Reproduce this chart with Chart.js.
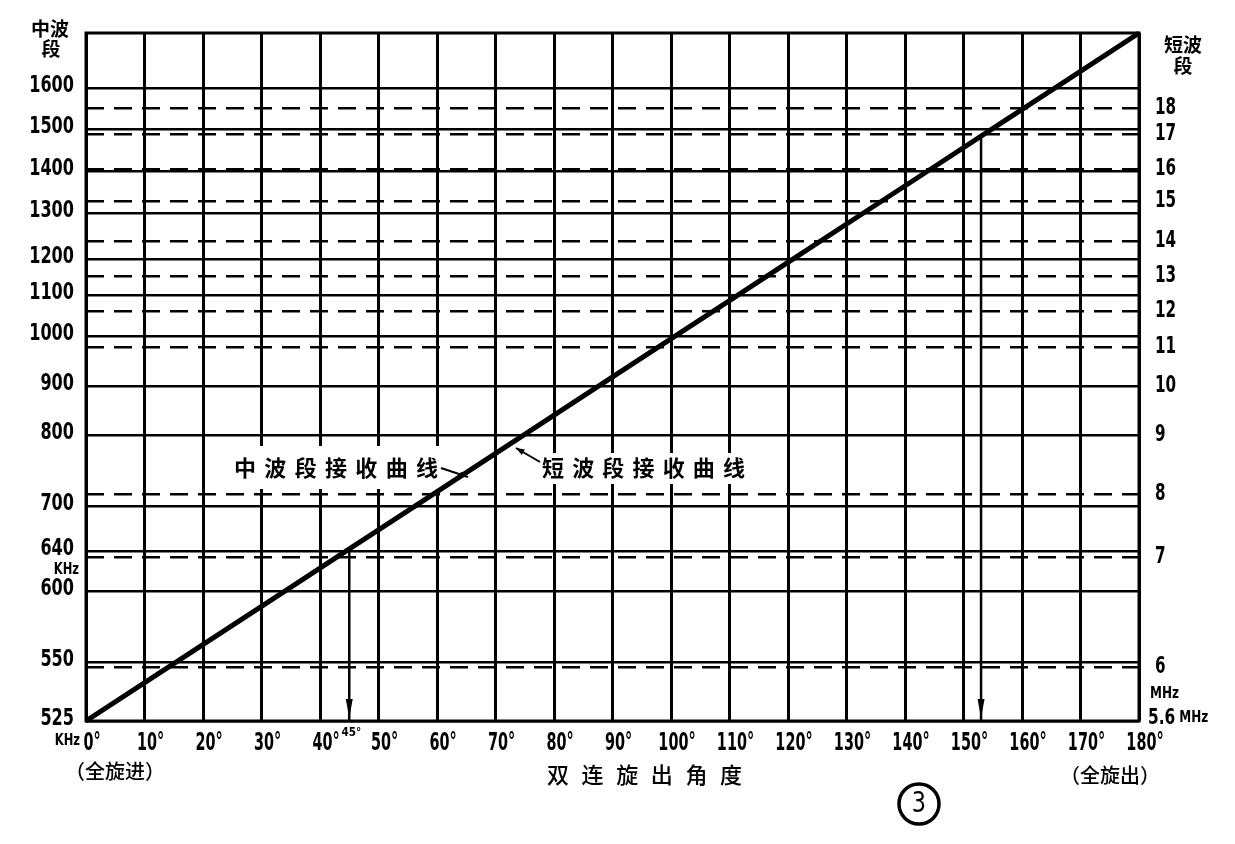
<!DOCTYPE html>
<html><head><meta charset="utf-8">
<title>双连旋出角度</title>
<script src="https://cdn.jsdelivr.net/npm/chart.js@4.4.1/dist/chart.umd.min.js"></script>
<style>html,body{margin:0;background:#fff}canvas{display:block}</style>
</head><body>
<canvas id="dial" width="1235" height="844"></canvas>
<script>
// dial calibration
// x: rotation angle of the twin capacitor (degrees), curves are straight so each band gets its own frequency scale
const angleTicks = [0,10,20,30,40,50,60,70,80,90,100,110,120,130,140,150,160,170,180];

// medium wave: frequency (kHz) and the angle where the curve reaches it
const mwKHz   = [525, 550, 600, 640, 700, 800, 900, 1000, 1100, 1200, 1300, 1400, 1500, 1600];
const mwAngle = [0, 15.4, 34.0, 44.5, 56.3, 74.8, 87.6, 100.7, 111.5, 120.9, 132.9, 143.9, 154.9, 165.6];
const mwTopKHz = 1720;   // full rotation (180°), not labelled

// short wave: frequency (MHz) and angle
const swMHz   = [5.6, 6, 7, 8, 9, 10, 11, 12, 13, 14, 15, 16, 17, 18];
const swAngle = [0, 14.1, 42.9, 59.4, 74.8, 87.6, 97.8, 107.3, 116.4, 125.6, 136.0, 144.4, 153.6, 160.4];
const swTopMHz = 20;
const swDashed = [6, 7, 8, 11, 12, 13, 14, 15, 16, 17, 18];   // MHz values that carry a dashed line

// marked points (angle, band value)
const markAngles = [45, 153];
const markFreqs  = [640, 17];

const NUM = '"DejaVu Sans", sans-serif';
const CJK = '"Noto Sans CJK SC", "Noto Sans CJK TC", sans-serif';

function interp(v, xs, ys){
  if(v<=xs[0]) return ys[0];
  for(let i=1;i<xs.length;i++){ if(v<=xs[i]){ const t=(v-xs[i-1])/(xs[i]-xs[i-1]); return ys[i-1]+t*(ys[i]-ys[i-1]); } }
  return ys[ys.length-1];
}

// frequency -> dial position lookup for each y axis
const DIALS = {
  y:  {f: mwKHz.concat([mwTopKHz]), a: mwAngle.concat([180]), ticks: mwKHz},
  y2: {f: swMHz.concat([swTopMHz]), a: swAngle.concat([180]), ticks: swMHz}
};

const LinearScale = Chart.LinearScale || Chart.registry.getScale('linear');
class DialScale extends LinearScale {
  determineDataLimits(){ const c=DIALS[this.id]; this.min=c.f[0]; this.max=c.f[c.f.length-1]; }
  buildTicks(){ return DIALS[this.id].ticks.map(v=>({value:v})); }
  getPixelForValue(v){ const c=DIALS[this.id]; return this.getPixelForDecimal(interp(v, c.f, c.a)/180); }
  getValueForPixel(p){ const c=DIALS[this.id]; return interp(this.getDecimalForPixel(p)*180, c.a, c.f); }
}
DialScale.id = 'dial';
DialScale.defaults = {};
Chart.register(DialScale);

function txt(ctx, s, x, y, font, align){ ctx.font=font; ctx.textAlign=align||'center'; ctx.textBaseline='middle'; ctx.fillText(s, x, y); }
// narrow printed digits: squeeze the text horizontally, returns drawn width
function ntxt(ctx, s, x, y, size, align, sx, weight){
  ctx.save(); ctx.translate(x, y); ctx.scale(sx, 1);
  ctx.font=(weight||'bold')+' '+size+'px '+NUM; ctx.textAlign=align||'center'; ctx.textBaseline='middle';
  ctx.fillText(s, 0, 0); const w=ctx.measureText(s).width*sx; ctx.restore(); return w;
}
function spaced(ctx, s, x0, x1, y, font){ // spread characters evenly between x0 and x1
  ctx.font=font; ctx.textAlign='center'; ctx.textBaseline='middle';
  const ch=[...s]; const w=ctx.measureText(ch[0]).width; const step=(x1-x0-w)/(ch.length-1);
  ch.forEach((c,i)=>ctx.fillText(c, x0+w/2+i*step, y));
}
function arrow(ctx, x1, y1, x2, y2, size){
  ctx.beginPath(); ctx.moveTo(x1,y1); ctx.lineTo(x2,y2); ctx.stroke();
  const a=Math.atan2(y2-y1, x2-x1);
  ctx.beginPath(); ctx.moveTo(x2,y2);
  ctx.lineTo(x2-size*Math.cos(a-0.35), y2-size*Math.sin(a-0.35));
  ctx.lineTo(x2-size*Math.cos(a+0.35), y2-size*Math.sin(a+0.35));
  ctx.closePath(); ctx.fill();
}

const decor = {
  id: 'decor',
  beforeDatasetsDraw(chart){
    const ctx=chart.ctx, a=chart.chartArea;
    ctx.save();
    // label boxes break the grid like in the print
    ctx.fillStyle='#fff';
    ctx.fillRect(228, 446, 218, 43);
    ctx.fillRect(537, 453, 212, 31);
    ctx.strokeStyle='#000'; ctx.lineWidth=3;
    ctx.strokeRect(a.left, a.top, a.right-a.left, a.bottom-a.top);
    ctx.fillStyle='#000';
    spaced(ctx, '中波段接收曲线', 234, 438, 468, 'bold 22px '+CJK);
    spaced(ctx, '短波段接收曲线', 542, 745, 468, 'bold 22px '+CJK);
    ctx.restore();
  },
  afterDatasetsDraw(chart){
    const ctx=chart.ctx, a=chart.chartArea, sx=chart.scales.x;
    ctx.save();
    ctx.strokeStyle='#000'; ctx.fillStyle='#000'; ctx.lineWidth=2;
    arrow(ctx, 441, 468, 468, 477, 9);
    arrow(ctx, 540, 462, 516, 448, 9);
    // angle markers with down arrows
    markAngles.forEach((ang,i)=>{
      const x=sx.getPixelForValue(ang);
      const yTop=(i===0?chart.scales.y:chart.scales.y2).getPixelForValue(markFreqs[i]);
      ctx.lineWidth=2.5; ctx.beginPath(); ctx.moveTo(x,yTop); ctx.lineTo(x,a.bottom); ctx.stroke();
      ctx.beginPath(); ctx.moveTo(x-3.5,a.bottom-22); ctx.lineTo(x+3.5,a.bottom-22); ctx.lineTo(x,a.bottom-3); ctx.closePath(); ctx.fill();
    });
    ctx.restore();
  },
  afterDraw(chart){
    const ctx=chart.ctx, sx=chart.scales.x, y=chart.scales.y, y2=chart.scales.y2;
    ctx.save(); ctx.fillStyle='#000'; ctx.strokeStyle='#000';
    // tick labels from the scales, in the narrow printed style
    sx.ticks.forEach(t=>ntxt(ctx, t.value+'°', sx.getPixelForValue(t.value)+6, 744, 24, 'center', 0.6));
    ntxt(ctx, '45°', sx.getPixelForValue(45)+2, 733, 13, 'center', 0.8);
    y.ticks.forEach(t=>ntxt(ctx, String(t.value), 74, y.getPixelForValue(t.value)-2, 23, 'right', 0.7));
    y2.ticks.forEach(t=>{ if(t.value!==5.6) ntxt(ctx, String(t.value), 1155, y2.getPixelForValue(t.value), 23, 'left', 0.66); });
    const w=ntxt(ctx, '5.6', 1148, y2.getPixelForValue(5.6)-3, 22, 'left', 0.7);
    ntxt(ctx, 'MHz', 1148+w+4, y2.getPixelForValue(5.6)-3, 16, 'left', 0.75);
    // units
    ntxt(ctx, 'KHz', 79, y.getPixelForValue(640)+19, 16, 'right', 0.72);
    ntxt(ctx, 'KHz', 80, 741, 16, 'right', 0.72);
    ntxt(ctx, 'MHz', 1150, y2.getPixelForValue(6)+27, 16, 'left', 0.75);
    // band titles
    txt(ctx, '中波', 50, 29, 'bold 19px '+CJK);
    txt(ctx, '段', 51, 49, 'bold 19px '+CJK);
    txt(ctx, '短波', 1183, 45, 'bold 19px '+CJK);
    txt(ctx, '段', 1183, 66, 'bold 19px '+CJK);
    // bottom captions
    txt(ctx, '（全旋进）', 115, 771, '500 20px '+CJK);
    spaced(ctx, '双连旋出角度', 547, 742, 775, '500 22px '+CJK);
    txt(ctx, '（全旋出）', 1110, 775, '500 20px '+CJK);
    ctx.lineWidth=3.5; ctx.beginPath(); ctx.arc(919, 804, 20, 0, Math.PI*2); ctx.stroke();
    ntxt(ctx, '3', 919, 805, 28, 'center', 0.8, 'normal');
    ctx.restore();
  }
};

const mwPoints = mwAngle.concat([180]).map((ang,i)=>({x:ang, y:DIALS.y.f[i]}));
const swPoints = swAngle.concat([180]).map((ang,i)=>({x:ang, y:DIALS.y2.f[i]}));

new Chart(document.getElementById('dial'), {
  type: 'line',
  data: {datasets: [
    {label:'短波段接收曲线', data: swPoints, yAxisID:'y2', borderColor:'#000', borderWidth:3, borderDash:[9,4], pointRadius:0, tension:0},
    {label:'中波段接收曲线', data: mwPoints, yAxisID:'y', borderColor:'#000', borderWidth:5, pointRadius:0, tension:0}
  ]},
  options: {
    responsive:false, animation:false,
    layout:{padding:{top:33, left:0, right:0, bottom:0}},
    plugins:{legend:{display:false}, tooltip:{enabled:false}},
    scales: {
      x: {type:'linear', position:'bottom', min:0, max:180,
          afterBuildTicks: s=>{ s.ticks = angleTicks.map(v=>({value:v})); },
          afterFit: s=>{ s.height = 123; },
          grid:{color:'#000', lineWidth:3, drawTicks:false},
          border:{display:false},
          ticks:{display:false}},
      y: {type:'dial', position:'left',
          afterFit: s=>{ s.width = 86; },
          grid:{color:'#000', lineWidth:2.5, drawTicks:false},
          border:{display:false},
          ticks:{display:false}},
      y2: {type:'dial', position:'right',
          afterFit: s=>{ s.width = 96; },
          grid:{color:c=>swDashed.includes(c.tick && c.tick.value)?'#000':'rgba(0,0,0,0)', lineWidth:2.5, drawTicks:false},
          border:{display:false, dash:[18,10]},
          ticks:{display:false}}
    }
  },
  plugins:[decor]
});
</script>
</body></html>
